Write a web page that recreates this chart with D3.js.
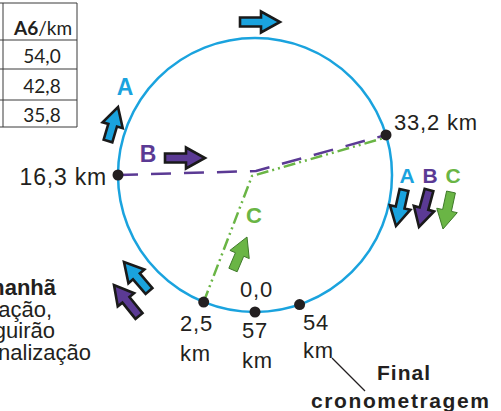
<!DOCTYPE html>
<html><head><meta charset="utf-8">
<script src="https://cdn.jsdelivr.net/npm/d3@7"></script>
<style>
html,body{margin:0;padding:0;background:#fff;overflow:hidden}
svg{display:block}
text{font-family:"Liberation Sans",Arial,sans-serif;fill:#231f20}
</style></head>
<body>
<script>
// ---------- DATA ----------
const checkpointKm = [0, 2.5, 16.3, 33.2, 54, 57];
const checkpointLabels = ["0,0", "2,5 km", "16,3 km", "33,2 km", "54 km", "57 km"];
const tableHeader = ["A6", "/km"];
const tableValues = [54.0, 42.8, 35.8];
const teamNames = ["A", "B", "C"];
const leftTextLines = ["manhã", "ação,", "guirão", "nalização"];
const finishLabel = ["Final", "cronometragem"];

// ---------- LAYOUT ----------
const W = 501, H = 411;
const cx = 255, cy = 175, R = 137;
const colors = {A: "#1aa3de", B: "#5b3a94", C: "#6ab545", ink: "#231f20"};
// schematic placement of kilometre marks around the circuit (degrees clockwise from bottom)
const angle = d3.scaleLinear().domain(checkpointKm).range([0, 22, 90, 253, 341, 360]);
const pos = km => {
  const a = angle(km) * Math.PI / 180;
  return [cx - R * Math.sin(a), cy + R * Math.cos(a)];
};

const svg = d3.select("body").append("svg").attr("width", W).attr("height", H);

// ---------- table ----------
const tbl = svg.append("g");
const rowY = d3.scaleOrdinal().domain([-1, 0, 1, 2]).range([35, 63, 93, 122]);
const lineYs = [3, 40, 69, 100, 127];
tbl.selectAll("line.h").data(lineYs).join("line")
  .attr("x1", 0).attr("x2", 77).attr("y1", d => d).attr("y2", d => d)
  .attr("stroke", "#3a3a3a").attr("stroke-width", 1);
tbl.selectAll("line.v").data([3, 77]).join("line")
  .attr("x1", d => d).attr("x2", d => d).attr("y1", 3).attr("y2", 127)
  .attr("stroke", "#3a3a3a").attr("stroke-width", 1);
const th = tbl.append("text").attr("x", 43).attr("y", rowY(-1)).attr("text-anchor", "middle")
  .style("font-family", "Lato, 'Open Sans', sans-serif").style("font-size", "19px");
th.append("tspan").style("font-weight", "bold").text(tableHeader[0]);
th.append("tspan").text(tableHeader[1]);
const fmt = v => d3.format(".1f")(v).replace(".", ",");
tbl.selectAll("text.v").data(tableValues).join("text")
  .attr("x", 42).attr("y", (d, i) => rowY(i)).attr("text-anchor", "middle")
  .style("font-family", "Lato, 'Open Sans', sans-serif").style("font-size", "19px")
  .text(d => fmt(d));

// ---------- circuit ----------
svg.append("circle").attr("cx", cx).attr("cy", cy).attr("r", R)
  .attr("fill", "none").attr("stroke", colors.A).attr("stroke-width", 2.5);

// inner routes
const p16 = pos(16.3), p33 = pos(33.2), p25 = pos(2.5);
const line = d3.line();
svg.append("path")
  .attr("d", line([p25, [252, 176], [p33[0] - 2, p33[1] + 3]]))
  .attr("fill", "none").attr("stroke", colors.C).attr("stroke-width", 2.5)
  .attr("stroke-dasharray", "12,4,2,4,2,4");
svg.append("path")
  .attr("d", line([p16, [256, 171], p33]))
  .attr("fill", "none").attr("stroke", colors.B).attr("stroke-width", 2.5)
  .attr("stroke-dasharray", "20,13");

// checkpoint dots
svg.selectAll("circle.dot").data(checkpointKm.slice(0, 5)).join("circle")
  .attr("cx", d => pos(d)[0]).attr("cy", d => pos(d)[1]).attr("r", 5.5)
  .attr("fill", colors.ink);

// checkpoint labels
const lbl = (txt, x, y, anchor, size) => svg.append("text").attr("x", x).attr("y", y)
  .attr("text-anchor", anchor || "start").style("font-size", (size || 22) + "px")
  .style("letter-spacing", "0.8px").text(txt);
lbl(checkpointLabels[0], 240, 297);
lbl(checkpointLabels[1].split(" ")[0], 180, 331);
lbl(checkpointLabels[1].split(" ")[1], 180, 361);
lbl(checkpointLabels[2], 107, 185, "end", 23);
lbl(checkpointLabels[3], 394, 130);
lbl(checkpointLabels[4].split(" ")[0], 303, 330);
lbl(checkpointLabels[4].split(" ")[1], 303, 358);
lbl(checkpointLabels[5].split(" ")[0], 242, 338);
lbl(checkpointLabels[5].split(" ")[1], 242, 368);

// finish leader + label
svg.append("line").attr("x1", 332).attr("y1", 358).attr("x2", 365).attr("y2", 391)
  .attr("stroke", colors.ink).attr("stroke-width", 1.2);
svg.append("text").attr("x", 377).attr("y", 380).style("font-weight", "bold")
  .style("font-size", "21px").style("letter-spacing", "1px").text(finishLabel[0]);
svg.append("text").attr("x", 311).attr("y", 408).style("font-weight", "bold")
  .style("font-size", "21px").style("letter-spacing", "1.6px").text(finishLabel[1]);

// left (cropped) text
const leftY = [295, 317, 338, 360];
const leftX = [56, 52, 55, 91];
svg.selectAll("text.left").data(leftTextLines).join("text")
  .attr("x", (d, i) => leftX[i]).attr("y", (d, i) => leftY[i]).attr("text-anchor", "end")
  .style("font-size", "22px").style("font-weight", (d, i) => i === 0 ? "bold" : "normal")
  .text(d => d);

// ---------- arrows ----------
function arrowPath(t, p, sw, hw, hl) {
  const dx = p[0] - t[0], dy = p[1] - t[1], L = Math.hypot(dx, dy);
  const ux = dx / L, uy = dy / L, vx = -uy, vy = ux;
  const pts = [[0, -sw / 2], [L - hl, -sw / 2], [L - hl, -hw / 2], [L, 0],
               [L - hl, hw / 2], [L - hl, sw / 2], [0, sw / 2]]
    .map(([a, b]) => [t[0] + ux * a + vx * b, t[1] + uy * a + vy * b]);
  return d3.line()(pts) + "Z";
}
const arrows = [
  {team: "A", t: [240, 22], p: [280, 22]},
  {team: "A", t: [108, 141], p: [118, 107]},
  {team: "B", t: [165, 158], p: [205, 158]},
  {team: "A", t: [404, 190], p: [396, 226]},
  {team: "B", t: [429, 190], p: [419, 227]},
  {team: "C", t: [451, 192], p: [443, 229]},
  {team: "C", t: [233, 270], p: [247, 237]},
  {team: "A", t: [149, 291], p: [124, 262]},
  {team: "B", t: [139, 316], p: [114, 285]}
];
svg.selectAll("path.arrow").data(arrows).join("path")
  .attr("d", d => arrowPath(d.t, d.p, 9, 21, 19))
  .attr("fill", d => colors[d.team])
  .attr("stroke", d => d.team === "C" ? "#3f7a2a" : "#1a1a1a")
  .attr("stroke-width", d => d.team === "C" ? 1 : 2.6)
  .attr("stroke-linejoin", "miter");

// team letters
const letters = [
  {team: "A", x: 125, y: 95, s: 23},
  {team: "B", x: 148, y: 162, s: 23},
  {team: "A", x: 407, y: 183, s: 21},
  {team: "B", x: 430, y: 183, s: 21},
  {team: "C", x: 453, y: 183, s: 21},
  {team: "C", x: 254, y: 223, s: 22}
];
svg.selectAll("text.team").data(letters).join("text")
  .attr("x", d => d.x).attr("y", d => d.y).attr("text-anchor", "middle")
  .style("font-weight", "bold").style("font-size", d => d.s + "px")
  .style("fill", d => colors[d.team]).text(d => teamNames.indexOf(d.team) >= 0 ? d.team : "");
</script>
</body></html>
